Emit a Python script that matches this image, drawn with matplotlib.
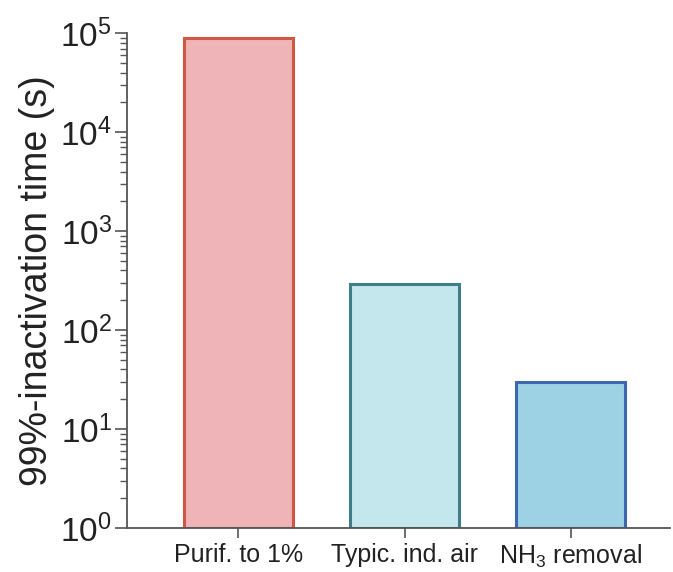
import matplotlib.pyplot as plt
from matplotlib.ticker import LogLocator

plt.rcParams['font.family'] = ['Liberation Sans', 'DejaVu Sans']
plt.rcParams['mathtext.fontset'] = 'custom'
plt.rcParams['mathtext.rm'] = 'Liberation Sans'
plt.rcParams['mathtext.it'] = 'Liberation Sans:italic'

# Datos
labels = ['Purif. to 1%', 'Typic. ind. air', 'NH$_3$ removal']
times = [8.9e4, 290, 29]
fills = ['#EFB4B7', '#C4E7EE', '#9DD2E4']
edges = ['#CF5845', '#3F7E86', '#3F66B0']

fig = plt.figure(figsize=(6.73, 5.72), dpi=100)
ax = fig.add_axes([0.189, 0.077, 0.807, 0.865])

x = range(len(labels))
ax.bar(x, times, width=0.66, color=fills, edgecolor=edges, linewidth=2.2, bottom=1)

ax.set_yscale('log')
ax.set_ylim(1, 1e5)
ax.set_xlim(-0.67, 2.6)
ax.yaxis.set_minor_locator(LogLocator(base=10, subs=range(2, 10), numticks=20))

ax.set_xticks(list(x))
ax.set_xticklabels(labels, fontsize=18, color='#222222')
ax.tick_params(axis='y', labelsize=24, length=9, width=1.2, color='#555555',
               labelcolor='#222222', pad=2)
ax.tick_params(axis='y', which='minor', length=5, width=1, color='#555555')
ax.tick_params(axis='x', length=7, width=1.2, color='#555555', pad=4)

for s in ['top', 'right']:
    ax.spines[s].set_visible(False)
for s in ['left', 'bottom']:
    ax.spines[s].set_color('#555555')
    ax.spines[s].set_linewidth(1.3)

ax.set_ylabel('99%-inactivation time (s)', fontsize=27, labelpad=4, color='#222222')

plt.savefig('out.png', dpi=100)
